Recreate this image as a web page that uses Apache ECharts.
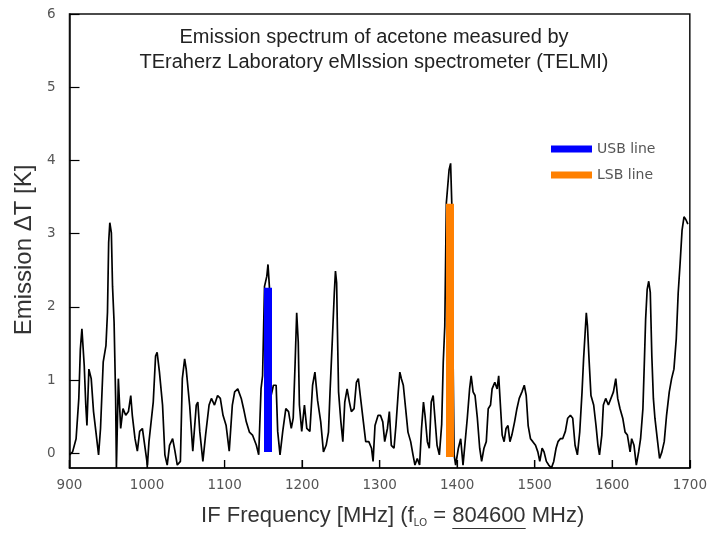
<!DOCTYPE html>
<html>
<head>
<meta charset="utf-8">
<script src="https://cdn.jsdelivr.net/npm/echarts@6/dist/echarts.min.js"></script>
<style>html,body{margin:0;padding:0;background:#fff}#c{width:710px;height:533px}</style>
</head>
<body>
<div id="c"></div>
<script>
// IF frequency (MHz) of spectrum samples
const freq = [900,904,908.5,912,914,916,919,921,922.5,925,928,931,934,937.5,940,943.5,947,949,950.5,952,954,955.5,957.5,959.5,960.5,961.5,963,966,969,972.5,976,979,981,984.5,987.5,990.5,994,997,1000.5,1002.5,1008,1011,1013,1016,1020,1023,1026,1029,1033,1036,1039,1043,1045.5,1048.5,1050.5,1055,1059,1063.5,1065.5,1068,1072,1075.5,1080,1083,1087,1091,1094.5,1098,1102,1106,1110,1113,1117,1121.5,1124.5,1128,1132,1136,1141,1144,1147,1149,1151.5,1154.5,1156,1158,1160,1163,1166.5,1168.5,1171.5,1175,1179,1182.5,1186,1188.5,1191,1193,1195,1196.5,1199.5,1203,1206,1210,1213.5,1216.5,1220,1224,1227.5,1231,1234,1236,1239,1241.5,1243,1244.5,1245.5,1247,1250,1252.5,1255,1258,1261,1263.5,1267,1270,1272.5,1276,1279,1282,1286,1289.5,1291.5,1294,1298,1301,1304,1306.5,1310,1312.5,1315,1318.5,1321,1324,1326,1328,1330.5,1333.5,1336.5,1340,1343,1345.5,1348.5,1351.5,1354,1356.5,1358.5,1361.5,1364,1366.5,1369,1371,1374,1377,1380,1382,1384,1386,1389.5,1391.5,1393,1394.5,1396,1398,1401.5,1404.5,1407.5,1409.5,1413,1416,1418,1420.5,1423,1426,1429,1431.5,1434.5,1437.5,1440,1443,1445,1448.5,1451.5,1453.5,1456,1458,1460.5,1463,1465.5,1468,1470.5,1474,1477,1480,1483.5,1486.5,1489,1491.5,1494.5,1497.5,1501,1504,1506.5,1509.5,1512,1515,1518,1521.5,1524.5,1527.5,1530,1533,1536,1539.5,1542.5,1546,1549,1552,1555,1558,1561,1563,1565,1566.5,1568,1570,1572.5,1576,1579,1581.5,1583.5,1586.5,1588.5,1591.5,1595,1597.5,1601.5,1604.5,1607,1610,1613.5,1616.5,1619.5,1623,1625,1628,1631,1634,1636.5,1639.5,1641.5,1643,1645,1647,1649,1651,1653,1655,1658,1661,1664,1667,1670,1673.5,1676.5,1679.5,1682.5,1685,1687.5,1690,1692.5,1695,1697.5];
// Emission ΔT (K)
const emission = [-0.02,0.02,0.2,0.75,1.42,1.70,1.2,0.66,0.38,1.15,1.02,0.57,0.3,-0.02,0.34,1.25,1.47,1.93,2.88,3.15,3.01,2.28,1.79,0.75,-0.2,-0.2,1.02,0.34,0.61,0.52,0.57,0.79,0.52,0.2,0.03,0.3,0.34,0.11,-0.16,0.16,0.7,1.33,1.38,1.11,0.66,-0.02,-0.16,0.11,0.2,0.03,-0.16,-0.11,1.02,1.29,1.15,0.65,0.03,0.66,0.7,0.3,-0.11,0.25,0.66,0.75,0.66,0.79,0.75,0.52,0.38,0.03,0.66,0.84,0.88,0.75,0.61,0.43,0.29,0.25,0.11,-0.02,0.88,1.06,2.28,2.42,2.58,2.24,0.79,0.93,0.93,0.3,-0.02,0.3,0.61,0.57,0.34,0.48,1.24,1.92,1.52,0.66,0.3,0.66,0.34,0.3,0.93,1.11,0.72,0.43,0.02,0.11,0.29,0.84,1.56,2.19,2.49,2.33,1.70,0.84,0.43,0.16,0.70,0.88,0.70,0.57,0.61,0.97,1.02,0.70,0.43,0.16,0.16,0.07,-0.11,0.38,0.52,0.52,0.43,0.16,0.34,0.57,0.11,0.07,0.38,0.84,1.11,1.02,0.93,0.61,0.29,0.16,-0.02,-0.16,-0.07,-0.16,0.34,0.70,0.52,0.16,0.07,0.70,0.79,0.52,0.11,-0.02,0.4,1.24,1.74,3.42,3.87,3.96,3.42,1.47,-0.02,-0.16,0.07,0.2,-0.16,-0.15,0.48,0.88,1.06,0.84,0.79,0.48,0.07,-0.11,0.07,0.16,0.61,0.66,0.88,0.97,0.88,1.06,0.61,0.25,0.16,0.34,0.38,0.16,0.25,0.43,0.61,0.75,0.84,0.93,0.79,0.38,0.2,0.16,0.11,0.02,-0.11,0.07,0.02,-0.11,-0.16,-0.2,-0.11,0.07,0.16,0.2,0.2,0.3,0.48,0.52,0.48,0.11,-0.02,0.29,0.84,1.29,1.65,1.92,1.74,1.29,0.79,0.66,0.38,0.11,-0.02,0.25,0.66,0.75,0.66,0.66,0.84,1.02,0.75,0.61,0.48,0.29,0.25,0.02,0.2,0.11,-0.16,0.02,0.2,0.61,1.29,1.83,2.24,2.35,2.2,1.33,0.75,0.48,0.2,-0.07,0.02,0.16,0.52,0.84,1.02,1.15,1.56,2.19,2.60,3.05,3.23,3.19,3.13];
// Marker lines: [frequency, bottom, top]
const usbLine = [1156, 0.02, 2.26];
const lsbLine = [1390.7, -0.05, 3.41];
const xTicks = [900,1000,1100,1200,1300,1400,1500,1600,1700];
const yTicks = [0,1,2,3,4,5,6];
const titleLines = ['Emission spectrum of acetone measured by', 'TEraherz Laboratory eMIssion spectrometer (TELMI)'];
const xNameParts = ['IF Frequency [MHz] (f', 'LO', ' = ', '804600', ' MHz)'];

const GRID = {left: 69.5, right: 20, top: 14, bottom: 64};
const W = 710, H = 533;
const Y_MIN = -0.2, Y_MAX = 6;
const NAME_FONT = 22, SUB_FONT = 10, FAM = 'Liberation Sans';
const NAME_SHIFT = 13; // x-axis name sits slightly right of the plot centre

// measure text widths for placing the underline below the LO frequency
const ctx = document.createElement('canvas').getContext('2d');
function tw(t, size) { ctx.font = size + 'px "' + FAM + '"'; return ctx.measureText(t).width; }
const wParts = xNameParts.map((t, i) => tw(t, i === 1 ? SUB_FONT : NAME_FONT));
const total = wParts.reduce((a, b) => a + b, 0);
const cx = (GRID.left + (W - GRID.right)) / 2 + NAME_SHIFT;
const ulStart = cx - total / 2 + wParts[0] + wParts[1] + wParts[2];
const ulEnd = ulStart + wParts[3];

const chart = echarts.init(document.getElementById('c'), null, {renderer: 'canvas'});
const spec = freq.map((f, i) => [f, emission[i]]);
const tickFont = {color: '#555', fontSize: 13.5, fontFamily: 'DejaVu Sans'};
chart.setOption({
  animation: false,
  backgroundColor: '#fff',
  grid: Object.assign({show: true, borderColor: '#111', borderWidth: 1.5}, GRID),
  graphic: [
    {type: 'text', x: 374, y: 25, style: {text: titleLines.join('\n'), textAlign: 'center', fill: '#222', fontSize: 20, lineHeight: 25, fontFamily: FAM}},
    {type: 'line', shape: {x1: ulStart, y1: 528.5, x2: ulEnd, y2: 528.5}, style: {stroke: '#333', lineWidth: 1.2}}
  ],
  legend: {
    orient: 'vertical', left: 546, top: 137, itemWidth: 41, itemHeight: 7, itemGap: 12, icon: 'rect',
    data: ['USB line', 'LSB line'],
    textStyle: {color: '#555', fontSize: 14, fontFamily: 'DejaVu Sans'}
  },
  xAxis: {
    type: 'value', min: 900, max: 1700, interval: 100, position: 'bottom',
    axisLine: {show: true, onZero: false, lineStyle: {color: '#111', width: 1.5}}, splitLine: {show: false},
    axisTick: {show: true, inside: true, length: 8, lineStyle: {color: '#000', width: 1.2}},
    axisLabel: Object.assign({margin: 10, formatter: v => String(v)}, tickFont),
    name: '{a|' + xNameParts[0] + '}{s|' + xNameParts[1] + '}{a|' + xNameParts[2] + xNameParts[3] + xNameParts[4] + '}',
    nameLocation: 'middle', nameGap: 36,
    nameTextStyle: {padding: [0, 0, 0, NAME_SHIFT * 2], rich: {a: {fontSize: NAME_FONT, color: '#333', fontFamily: FAM, lineHeight: 24}, s: {fontSize: SUB_FONT, color: '#333', fontFamily: FAM, padding: [14, 0, 0, 0], lineHeight: 24}}}
  },
  yAxis: {
    type: 'value', min: Y_MIN, max: Y_MAX,
    axisLine: {show: true, onZero: false, lineStyle: {color: '#111', width: 1.5}}, splitLine: {show: false},
    axisTick: {inside: true, length: 10, customValues: yTicks, lineStyle: {color: '#000', width: 1.2}},
    axisLabel: Object.assign({margin: 14, customValues: yTicks, formatter: v => String(v)}, tickFont),
    name: 'Emission \u0394T [K]', nameLocation: 'middle', nameGap: 31,
    nameTextStyle: {fontSize: 24, color: '#333', fontFamily: FAM, padding: [0, 18, 0, 0]}
  },
  series: [
    {type: 'line', name: 'spectrum', data: spec, showSymbol: false, lineStyle: {color: '#000', width: 1.7}, z: 2, clip: true},
    {type: 'line', name: 'USB line', data: [[usbLine[0], usbLine[1]], [usbLine[0], usbLine[2]]], showSymbol: false, color: '#0000ff', lineStyle: {color: '#0000ff', width: 8, cap: 'butt'}, z: 3},
    {type: 'line', name: 'LSB line', data: [[lsbLine[0], lsbLine[1]], [lsbLine[0], lsbLine[2]]], showSymbol: false, color: '#ff8000', lineStyle: {color: '#ff8000', width: 8, cap: 'butt'}, z: 3},
    {
      type: 'custom', name: 'xticks', silent: true, clip: false, z: 4,
      data: xTicks.map(v => [v, Y_MIN]),
      renderItem: (params, api) => {
        const p = api.coord([api.value(0), api.value(1)]);
        return {type: 'line', shape: {x1: p[0], y1: p[1], x2: p[0], y2: p[1] - 8}, style: {stroke: '#000', lineWidth: 1.2}};
      }
    }
  ]
});
</script>
</body>
</html>
